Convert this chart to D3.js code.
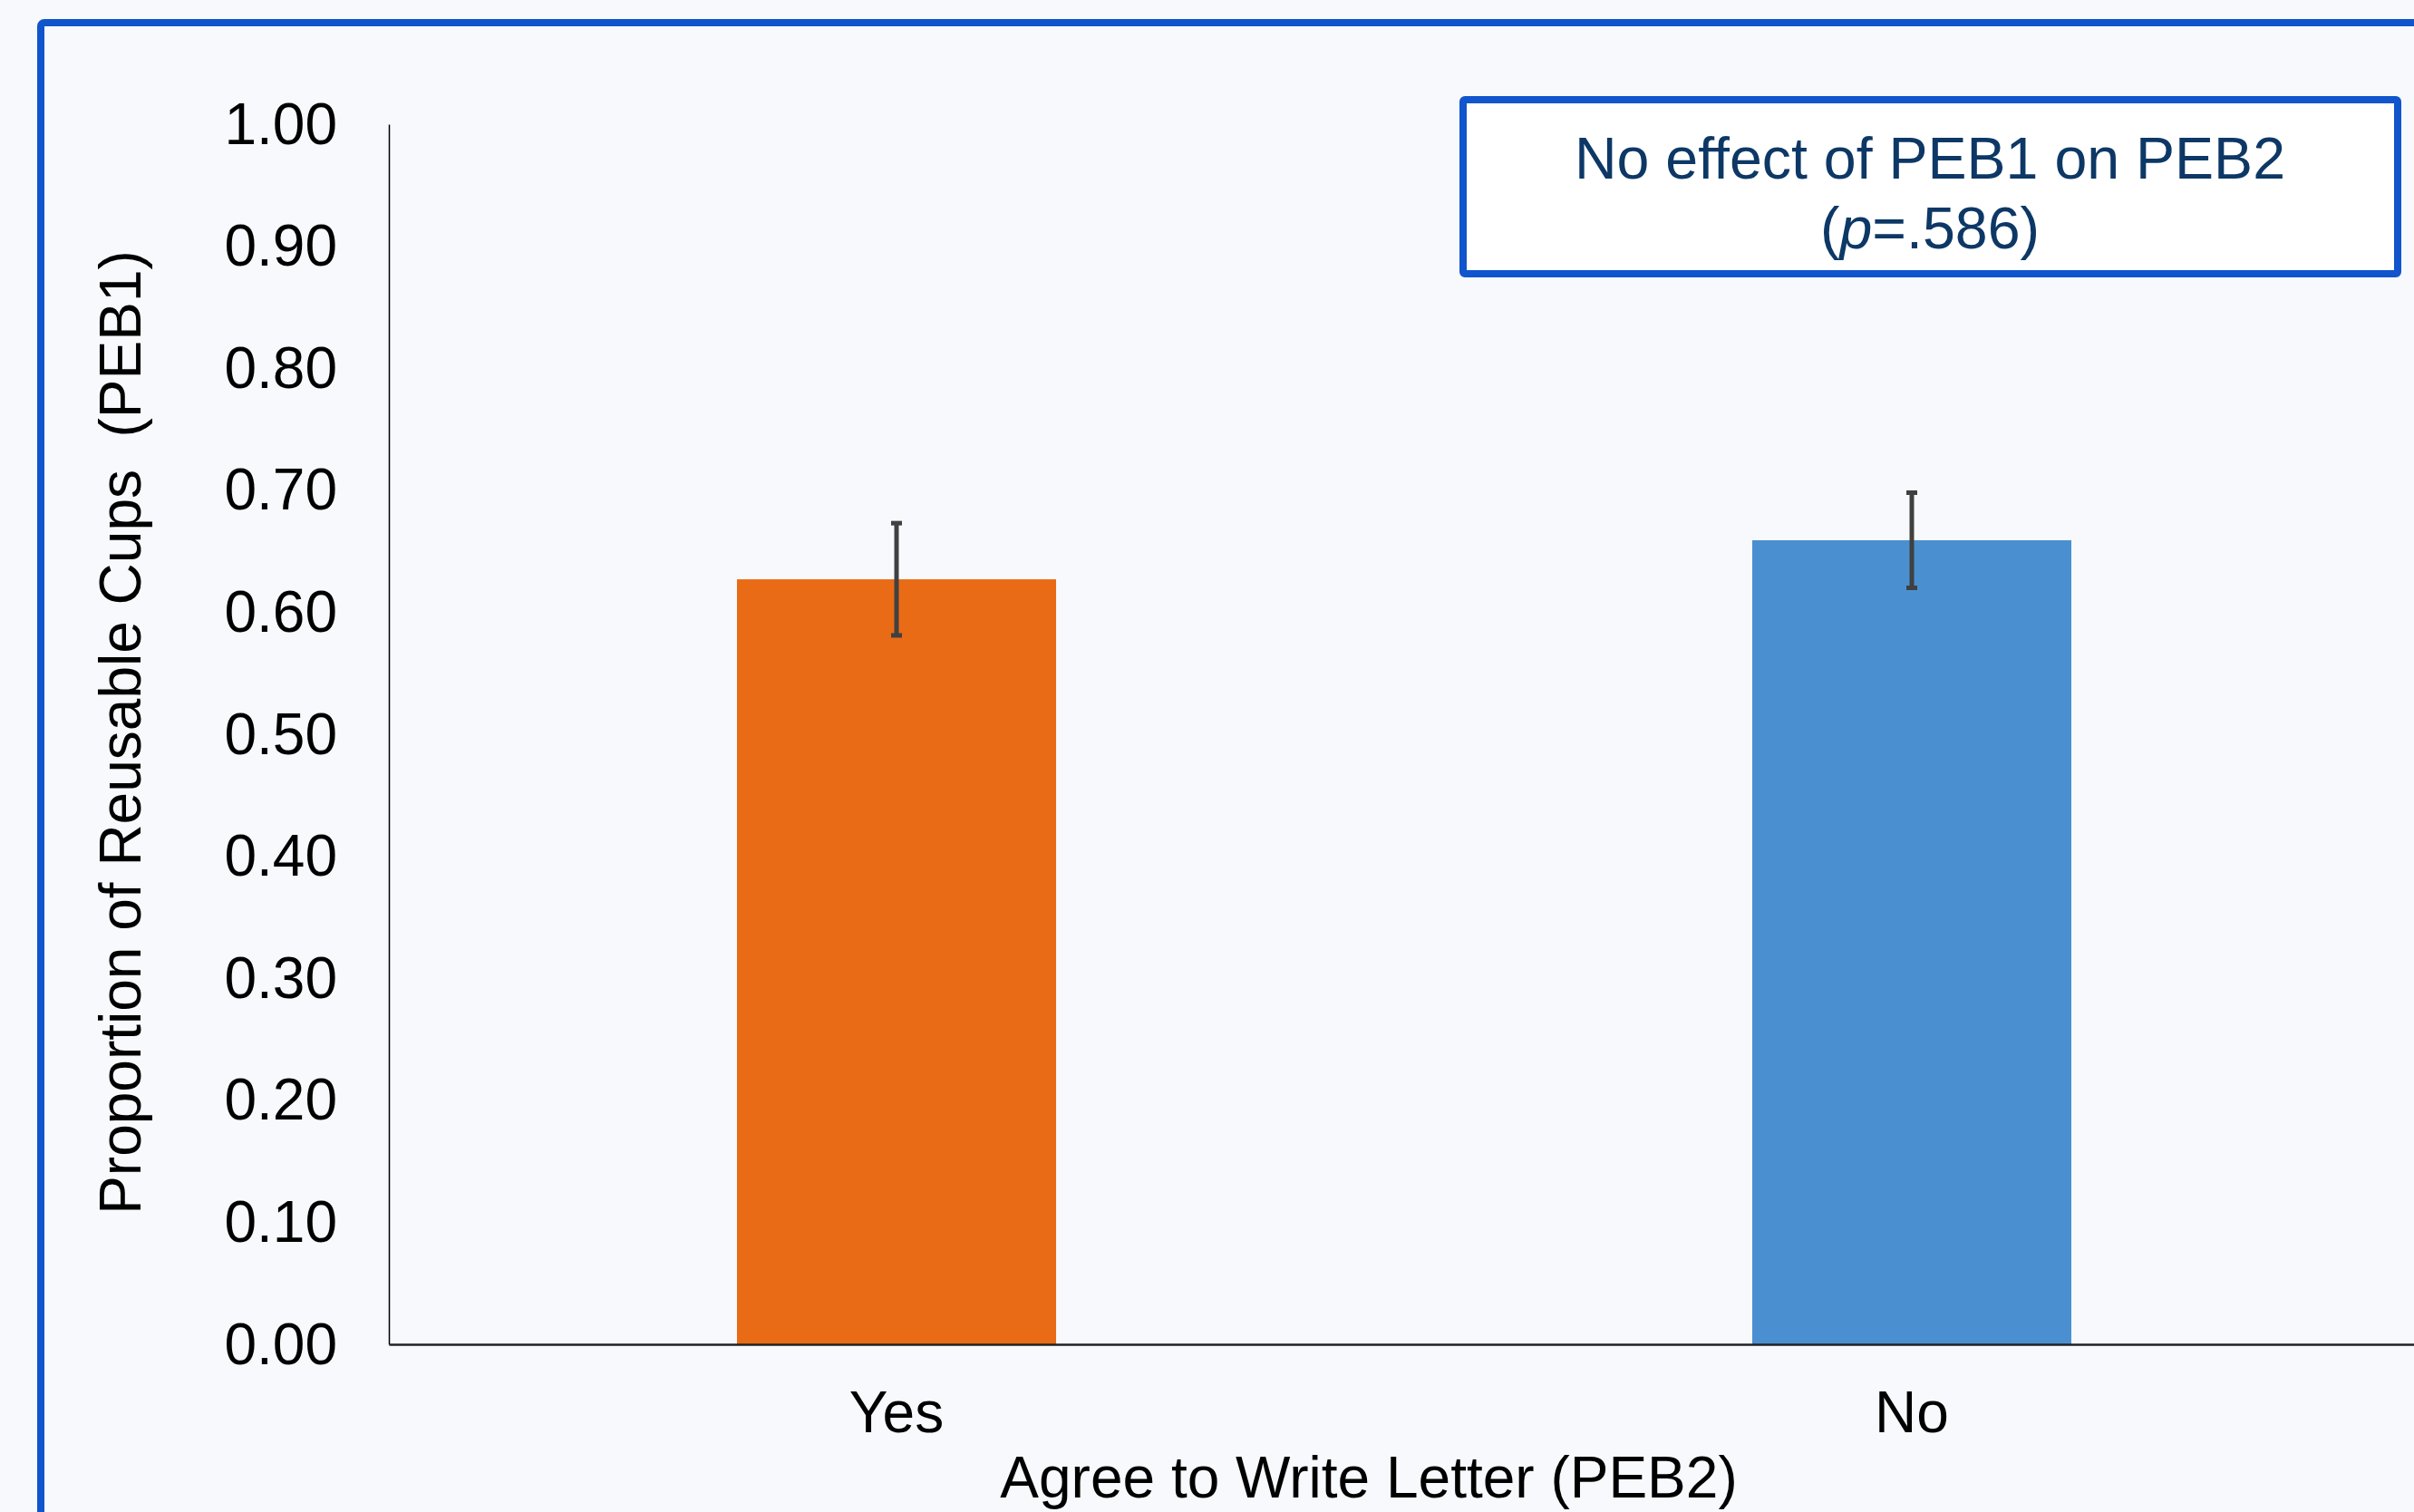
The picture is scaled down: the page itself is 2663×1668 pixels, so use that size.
<!DOCTYPE html>
<html>
<head>
<meta charset="utf-8">
<script src="https://cdn.jsdelivr.net/npm/d3@7"></script>
<style>
  html, body { margin: 0; padding: 0; background: #f8f9fd; }
  svg { display: block; }
  text { font-family: "Liberation Sans", Arial, sans-serif; }
</style>
</head>
<body>
<svg id="chart" width="2663" height="1668"></svg>
<script>
// ---- data ----
const categories = ["Yes", "No"];
const means = [0.627, 0.659];
const errors = [0.046, 0.039];
const barColors = ["#e96b16", "#4a90d0"];
const yTicks = [0, 0.1, 0.2, 0.3, 0.4, 0.5, 0.6, 0.7, 0.8, 0.9, 1.0];
const yTitle = "Proportion of Reusable Cups  (PEB1)";
const xTitle = "Agree to Write Letter (PEB2)";
const noteLine1 = "No effect of PEB1 on PEB2";
const noteP = "p";
const noteRest = "=.586)";

// ---- layout ----
const W = 2663, H = 1668;
const plot = { left: 429, top: 137, bottom: 1483, right: 2669 };

const svg = d3.select("#chart");

svg.append("rect").attr("x", 0).attr("y", 0).attr("width", W).attr("height", H).attr("fill", "#f8f9fd");

// outer frame (cropped on right/bottom)
svg.append("rect")
  .attr("x", 45).attr("y", 25).attr("width", 3000).attr("height", 3000)
  .attr("rx", 4)
  .attr("fill", "none").attr("stroke", "#1155cc").attr("stroke-width", 8);

const x = d3.scaleBand().domain(categories).range([plot.left, plot.right]).padding(0);
const y = d3.scaleLinear().domain([0, 1]).range([plot.bottom, plot.top]);
const barW = x.bandwidth() * 0.3143;

// bars
svg.append("g").selectAll("rect").data(categories).join("rect")
  .attr("x", (d) => x(d) + x.bandwidth() / 2 - barW / 2)
  .attr("width", barW)
  .attr("y", (d, i) => y(means[i]))
  .attr("height", (d, i) => y(0) - y(means[i]))
  .attr("fill", (d, i) => barColors[i]);

// error bars
const eb = svg.append("g").attr("stroke", "#404040").attr("fill", "none");
categories.forEach((c, i) => {
  const cx = x(c) + x.bandwidth() / 2;
  const y1 = y(means[i] + errors[i]);
  const y2 = y(means[i] - errors[i]);
  eb.append("line").attr("x1", cx).attr("x2", cx).attr("y1", y1).attr("y2", y2).attr("stroke-width", 5);
  eb.append("line").attr("x1", cx - 6).attr("x2", cx + 6).attr("y1", y1).attr("y2", y1).attr("stroke-width", 5);
  eb.append("line").attr("x1", cx - 6).attr("x2", cx + 6).attr("y1", y2).attr("y2", y2).attr("stroke-width", 5);
});

// y axis
const yAxis = d3.axisLeft(y).tickValues(yTicks).tickFormat(d3.format(".2f")).tickSize(0).tickPadding(57);
const gy = svg.append("g").attr("transform", `translate(${plot.left},0)`).call(yAxis);
gy.select(".domain").attr("stroke", "#000").attr("stroke-width", 1.5);
gy.selectAll("text").attr("font-size", 64).attr("fill", "#000")
  .attr("font-family", '"Liberation Sans", Arial, sans-serif').attr("dy", "0.33em");

// x axis
const xAxis = d3.axisBottom(x).tickSize(0).tickPadding(0);
const gx = svg.append("g").attr("transform", `translate(0,${plot.bottom})`).call(xAxis);
gx.select(".domain").attr("stroke", "#222").attr("stroke-width", 2.5);
gx.selectAll("text").attr("font-size", 64).attr("fill", "#000")
  .attr("font-family", '"Liberation Sans", Arial, sans-serif')
  .attr("dy", null).attr("y", 97);

// axis titles
svg.append("text")
  .attr("transform", `translate(155,808) rotate(-90)`)
  .attr("text-anchor", "middle").attr("font-size", 64).attr("fill", "#000")
  .style("white-space", "pre")
  .text(yTitle);

svg.append("text")
  .attr("x", 1510).attr("y", 1652)
  .attr("text-anchor", "middle").attr("font-size", 64).attr("fill", "#000")
  .text(xTitle);

// annotation box
svg.append("rect")
  .attr("x", 1614).attr("y", 110).attr("width", 1031).attr("height", 192)
  .attr("rx", 2)
  .attr("fill", "#ffffff").attr("stroke", "#1155cc").attr("stroke-width", 8);

const noteColor = "#0d3866";
svg.append("text")
  .attr("x", 2129).attr("y", 197)
  .attr("text-anchor", "middle").attr("font-size", 64.5).attr("fill", noteColor)
  .text(noteLine1);

const t2 = svg.append("text")
  .attr("x", 2129).attr("y", 274)
  .attr("text-anchor", "middle").attr("font-size", 64.5).attr("fill", noteColor);
t2.append("tspan").text("(");
t2.append("tspan").attr("font-style", "italic").text(noteP);
t2.append("tspan").text(noteRest);
</script>
</body>
</html>
